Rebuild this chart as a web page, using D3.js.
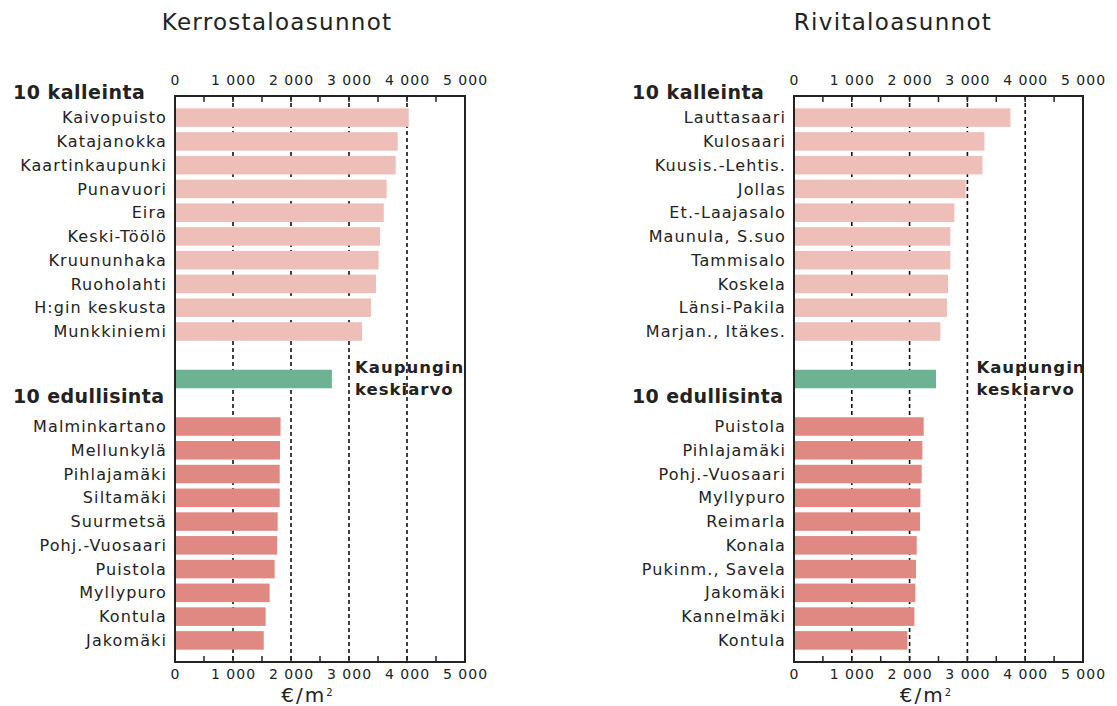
<!DOCTYPE html>
<html>
<head>
<meta charset="utf-8">
<script src="https://cdn.jsdelivr.net/npm/d3@7"></script>
<style>
  html, body { margin: 0; padding: 0; background: #fff; }
  svg { display: block; }
  text { font-family: "DejaVu Sans", Verdana, sans-serif; fill: #222; }
</style>
</head>
<body>
<svg id="chart" width="1117" height="706"></svg>
<script>
// ---------- DATA ----------
const panelTitles = ["Kerrostaloasunnot", "Rivitaloasunnot"];
const groupLabels = ["10 kalleinta", "10 edullisinta"];
const averageLabel = ["Kaupungin", "keskiarvo"];
const axisTitle = "€/m";
const xTicks = [0, 1000, 2000, 3000, 4000, 5000];
const gridTicks = [1000, 2000, 3000, 4000];

const kerrosTopNames = ["Kaivopuisto", "Katajanokka", "Kaartinkaupunki", "Punavuori", "Eira",
  "Keski-Töölö", "Kruununhaka", "Ruoholahti", "H:gin keskusta", "Munkkiniemi"];
const kerrosTopValues = [4030, 3840, 3805, 3650, 3600, 3535, 3510, 3465, 3380, 3225];
const kerrosAverage = 2705;
const kerrosBottomNames = ["Malminkartano", "Mellunkylä", "Pihlajamäki", "Siltamäki", "Suurmetsä",
  "Pohj.-Vuosaari", "Puistola", "Myllypuro", "Kontula", "Jakomäki"];
const kerrosBottomValues = [1820, 1810, 1805, 1805, 1770, 1760, 1718, 1632, 1563, 1530];

const riviTopNames = ["Lauttasaari", "Kulosaari", "Kuusis.-Lehtis.", "Jollas", "Et.-Laajasalo",
  "Maunula, S.suo", "Tammisalo", "Koskela", "Länsi-Pakila", "Marjan., Itäkes."];
const riviTopValues = [3745, 3295, 3260, 2970, 2775, 2705, 2705, 2665, 2648, 2533];
const riviAverage = 2457;
const riviBottomNames = ["Puistola", "Pihlajamäki", "Pohj.-Vuosaari", "Myllypuro", "Reimarla",
  "Konala", "Pukinm., Savela", "Jakomäki", "Kannelmäki", "Kontula"];
const riviBottomValues = [2244, 2221, 2209, 2187, 2181, 2123, 2111, 2100, 2083, 1962];

// ---------- STYLE ----------
const colTop = "#eebfb9";
const colBottom = "#e08982";
const colAvg = "#6db393";

const svg = d3.select("#chart");
const fmt = d3.formatLocale({ decimal: ",", thousands: " ", grouping: [3], currency: ["", "€"] }).format(",d");

const panels = [
  { title: panelTitles[0], left: 175, width: 290, titleX: 277, avgDx: 6,
    topN: kerrosTopNames, topV: kerrosTopValues, avg: kerrosAverage,
    botN: kerrosBottomNames, botV: kerrosBottomValues, groupX: 13 },
  { title: panelTitles[1], left: 794, width: 289, titleX: 893, avgDx: 9,
    topN: riviTopNames, topV: riviTopValues, avg: riviAverage,
    botN: riviBottomNames, botV: riviBottomValues, groupX: 632 }
];

const plotTop = 96, plotBottom = 662;
const y = d3.scaleBand().domain(d3.range(23)).range([plotTop, plotBottom])
  .paddingInner(0.22).paddingOuter(0.52);

panels.forEach(p => {
  const g = svg.append("g");
  const x = d3.scaleLinear().domain([0, 5000]).range([p.left, p.left + p.width]);

  const rows = [];
  p.topN.forEach((n, i) => rows.push({ name: n, value: p.topV[i], slot: i, color: colTop }));
  rows.push({ name: "", value: p.avg, slot: 11, color: colAvg });
  p.botN.forEach((n, i) => rows.push({ name: n, value: p.botV[i], slot: 13 + i, color: colBottom }));

  // title
  g.append("text").attr("x", p.titleX).attr("y", 30).attr("text-anchor", "middle")
    .style("font-size", "23px").style("letter-spacing", "1.3px").text(p.title);

  // grid dashed lines
  g.selectAll("line.grid").data(gridTicks).join("line")
    .attr("x1", d => x(d)).attr("x2", d => x(d))
    .attr("y1", plotTop).attr("y2", plotBottom)
    .attr("stroke", "#111").attr("stroke-width", 1.6).attr("stroke-dasharray", "4,3");

  // bars
  g.selectAll("rect.bar").data(rows).join("rect")
    .attr("x", x(0)).attr("y", d => y(d.slot))
    .attr("width", d => x(d.value) - x(0)).attr("height", y.bandwidth())
    .attr("fill", d => d.color);

  // axes: top and bottom
  const topAxis = d3.axisTop(x).tickValues(xTicks).tickFormat(fmt).tickSize(0).tickPadding(11);
  const botAxis = d3.axisBottom(x).tickValues(xTicks).tickFormat(fmt).tickSize(0).tickPadding(7);
  const ta = g.append("g").attr("transform", `translate(0,${plotTop})`).call(topAxis);
  const ba = g.append("g").attr("transform", `translate(0,${plotBottom})`).call(botAxis);
  [ta, ba].forEach(a => {
    a.select(".domain").remove();
    a.selectAll("text").style("font-size", "14px").style("letter-spacing", "1px")
      .style("font-family", "'DejaVu Sans', Verdana, sans-serif").attr("fill", "#222");
  });

  // inner minor ticks every 500
  const minor = d3.range(500, 5000, 500);
  g.selectAll("line.tt").data(minor).join("line")
    .attr("x1", d => x(d)).attr("x2", d => x(d))
    .attr("y1", plotTop).attr("y2", plotTop + 6)
    .attr("stroke", "#222").attr("stroke-width", 1.5);
  g.selectAll("line.bt").data(minor).join("line")
    .attr("x1", d => x(d)).attr("x2", d => x(d))
    .attr("y1", plotBottom).attr("y2", plotBottom - 6)
    .attr("stroke", "#222").attr("stroke-width", 1.5);

  // frame
  g.append("rect").attr("x", p.left).attr("y", plotTop)
    .attr("width", p.width).attr("height", plotBottom - plotTop)
    .attr("fill", "none").attr("stroke", "#222").attr("stroke-width", 2);

  // category labels
  g.selectAll("text.cat").data(rows.filter(r => r.name)).join("text")
    .attr("x", p.left - 8).attr("y", d => y(d.slot) + y.bandwidth() / 2)
    .attr("dy", "0.35em").attr("text-anchor", "end")
    .style("font-size", "16px").style("letter-spacing", "1.1px").text(d => d.name);

  // group labels
  g.append("text").attr("x", p.groupX).attr("y", 99)
    .style("font-size", "19px").style("font-weight", "bold").style("letter-spacing", "0.5px")
    .text(groupLabels[0]);
  g.append("text").attr("x", p.groupX).attr("y", 403)
    .style("font-size", "19px").style("font-weight", "bold").style("letter-spacing", "0.4px")
    .text(groupLabels[1]);

  // average label
  const at = g.append("text").style("font-size", "16.5px").style("font-weight", "bold")
    .style("letter-spacing", "1px");
  at.append("tspan").attr("x", x(3000) + p.avgDx).attr("y", 372.5).text(averageLabel[0]);
  at.append("tspan").attr("x", x(3000) + p.avgDx).attr("y", 395).text(averageLabel[1]);

  // axis title
  const xt = g.append("text").attr("x", p.left + p.width / 2 - 12).attr("y", 702)
    .attr("text-anchor", "middle").style("font-size", "20px").style("letter-spacing", "2px");
  xt.append("tspan").text(axisTitle);
  xt.append("tspan").attr("dy", "-0.65em").style("font-size", "10px").text("2");
});
</script>
</body>
</html>
